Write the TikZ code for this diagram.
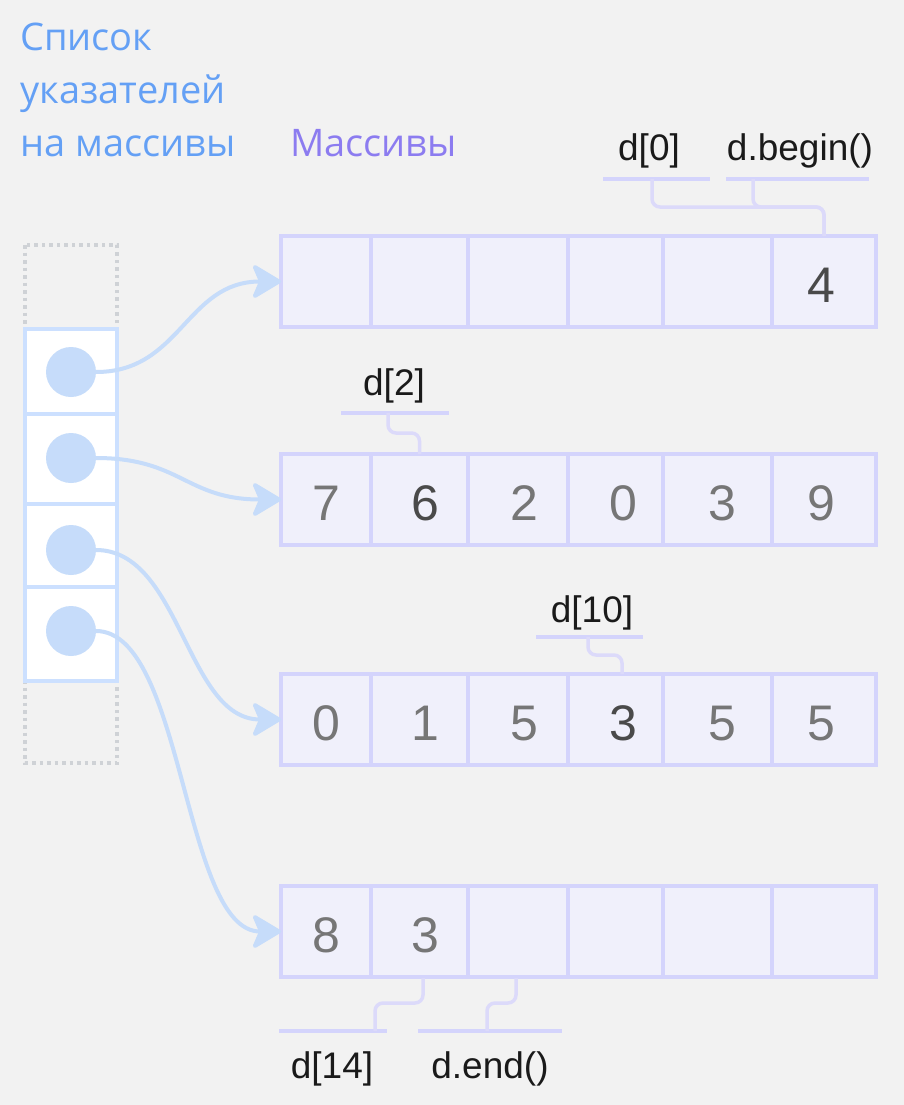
\documentclass[tikz,border=0pt]{standalone}
\usepackage{fontspec}
\usetikzlibrary{arrows.meta,calc}
\newfontfamily\titlefont{Open Sans}
\newfontfamily\lblfont{Liberation Sans}
\definecolor{bgc}{HTML}{F2F2F2}
\definecolor{titleblue}{HTML}{64A0F5}
\definecolor{titlepurple}{HTML}{8C7CF0}
\definecolor{cellline}{HTML}{D4D4FC}
\definecolor{cellfill}{HTML}{F0F0FB}
\definecolor{connc}{HTML}{DCDAFA}
\definecolor{ptrline}{HTML}{CCE0FF}
\definecolor{ptrc}{HTML}{C6DCFA}
\definecolor{dotc}{HTML}{CFD2D6}
\definecolor{digc}{HTML}{767676}
\definecolor{digdark}{HTML}{4A4A4A}
\definecolor{lblc}{HTML}{1A1A1A}
\tikzset{
  cellbox/.style={draw=cellline, fill=cellfill, line width=3.5pt, inner sep=0pt, outer sep=0pt, minimum height=91pt},
  dig/.style={anchor=base, text=digc, font=\lblfont\fontsize{50}{60}\selectfont, inner sep=0pt},
  digd/.style={dig, text=digdark},
  lbl/.style={anchor=base, text=lblc, font=\lblfont\fontsize{37}{44}\selectfont, inner sep=0pt},
  ttl/.style={anchor=base west, font=\titlefont\fontsize{38}{46}\selectfont, inner sep=0pt},
  uline/.style={draw=cellline, line width=3.5pt},
  conn/.style={draw=connc, line width=3.5pt, rounded corners=8pt},
  ptrcell/.style={draw=ptrline, fill=white, line width=3.5pt, inner sep=0pt, outer sep=0pt, minimum width=92pt},
  dot/.style={circle, fill=ptrc, minimum size=50pt, inner sep=0pt, outer sep=0pt},
  ptr/.style={draw=ptrc, line width=4pt, -{Stealth[length=32pt, width=38pt, inset=8pt, round]}}
}
\begin{document}
\begin{tikzpicture}[x=1pt,y=-1pt]
\fill[bgc] (0,0) rectangle (904,1105);
\useasboundingbox (0,0) rectangle (904,1105);

% titles
\node[ttl, text=titleblue] (t1) at (20,51) {Список};
\node[ttl, text=titleblue] (t2) at (20,104) {указателей};
\node[ttl, text=titleblue] (t3) at (20,157) {на массивы};
\node[ttl, text=titlepurple] (t4) at (290,157) {Массивы};

% pointer column
\draw[draw=dotc, line width=3.5pt, dash pattern=on 3.5pt off 4pt] (25,245) rectangle (117,763);
\node[ptrcell, minimum height=85pt] (c1) at (71,371.5) {};
\node[ptrcell, minimum height=90pt] (c2) at (71,459) {};
\node[ptrcell, minimum height=83pt] (c3) at (71,545.5) {};
\node[ptrcell, minimum height=94pt] (c4) at (71,634) {};
\node[dot] (p1) at (71,372) {};
\node[dot] (p2) at (71,458) {};
\node[dot] (p3) at (71,550) {};
\node[dot] (p4) at (71,631) {};

% arrays
\foreach \r/\cy in {1/281.5, 2/499.5, 3/719.5, 4/931.5} {
  \foreach \c/\a/\b in {1/281/371, 2/371/468, 3/468/568, 4/568/663, 5/663/772, 6/772/876} {
    \pgfmathsetmacro\w{\b-\a}
    \pgfmathsetmacro\cx{(\a+\b)/2}
    \node[cellbox, minimum width=\w pt] (r\r-\c) at (\cx,\cy) {};
  }
}

% digits
\node[digd] (n1-6) at (821,302) {4};
\node[dig] (n2-1) at (326,520) {7};
\node[digd] (n2-2) at (425,520) {6};
\node[dig] (n2-3) at (524,520) {2};
\node[dig] (n2-4) at (623,520) {0};
\node[dig] (n2-5) at (722,520) {3};
\node[dig] (n2-6) at (821,520) {9};
\node[dig] (n3-1) at (326,740) {0};
\node[dig] (n3-2) at (425,740) {1};
\node[dig] (n3-3) at (524,740) {5};
\node[digd] (n3-4) at (623,740) {3};
\node[dig] (n3-5) at (722,740) {5};
\node[dig] (n3-6) at (821,740) {5};
\node[dig] (n4-1) at (326,952) {8};
\node[dig] (n4-2) at (425,952) {3};

% pointer arrows
\draw[ptr] (p1.east) .. controls +(85,0) and +(-95,0) .. (r1-1.west);
\draw[ptr] (p2.east) .. controls +(85,0) and +(-95,0) .. (r2-1.west);
\draw[ptr] (p3.east) .. controls +(85,0) and +(-95,0) .. (r3-1.west);
\draw[ptr] (p4.east) .. controls +(88,0) and +(-98,0) .. (r4-1.west);

% labels
\node[lbl] (l0) at (649,160) {d[0]};
\node[lbl] (lb) at (800,160) {d.begin()};
\node[lbl] (l2) at (394,395) {d[2]};
\node[lbl] (l10) at (592,622) {d[10]};
\node[lbl] (l14) at (332,1078) {d[14]};
\node[lbl] (le) at (490,1078) {d.end()};

% underlines
\coordinate (u0a) at (603,179); \coordinate (u0b) at (710,179);
\coordinate (uba) at (726,179); \coordinate (ubb) at (869,179);
\coordinate (u2a) at (341,413); \coordinate (u2b) at (449,413);
\coordinate (u10a) at (536,637); \coordinate (u10b) at (643,637);
\coordinate (u14a) at (279,1031); \coordinate (u14b) at (387,1031);
\coordinate (uea) at (418,1031); \coordinate (ueb) at (562,1031);
\draw[uline] (u0a) -- (u0b);
\draw[uline] (uba) -- (ubb);
\draw[uline] (u2a) -- (u2b);
\draw[uline] (u10a) -- (u10b);
\draw[uline] (u14a) -- (u14b);
\draw[uline] (uea) -- (ueb);

% connectors
\coordinate (k0) at (652,179);
\coordinate (kb) at (753,179);
\coordinate (k2) at (388,413);
\coordinate (k10) at (588,637);
\coordinate (a10) at (622,674);
\coordinate (k14) at (375,1031);
\coordinate (a14) at (423,978);
\coordinate (ke) at (487,1031);
\coordinate (ae) at (516,978);
\draw[conn] (k0) -- ++(0,28) -| (r1-6.north);
\draw[conn] (kb) -- ++(0,28) -| (r1-6.north);
\draw[conn] (k2) -- ++(0,20) -| (r2-2.north);
\draw[conn] (k10) -- ++(0,18) -| (a10);
\draw[conn] (a14) -- ++(0,25) -| (k14);
\draw[conn] (ae) -- ++(0,25) -| (ke);
\end{tikzpicture}
\end{document}
